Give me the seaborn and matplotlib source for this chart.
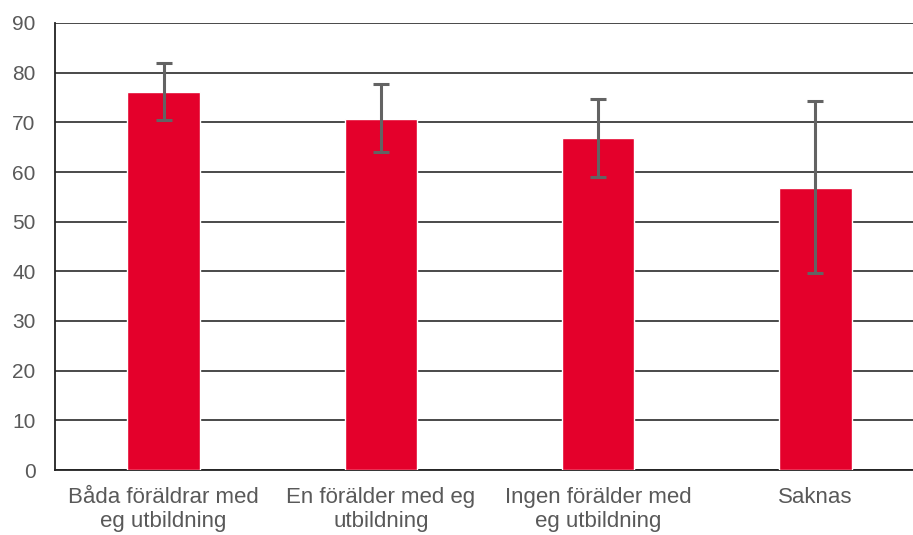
import numpy as np
import pandas as pd
import matplotlib
matplotlib.use('Agg')
import matplotlib.pyplot as plt
import seaborn as sns

# ==========================================
# Data
# ==========================================
categories = ['Båda föräldrar med\neg utbildning',
              'En förälder med eg\nutbildning',
              'Ingen förälder med\neg utbildning',
              'Saknas']
values = [76.2, 70.7, 66.9, 56.8]
err_low = [70.5, 64.1, 58.9, 39.6]
err_high = [81.9, 77.7, 74.7, 74.2]

df = pd.DataFrame({'Kategori': categories, 'Värde': values})

sns.set_theme(style='white')
plt.rcParams['font.family'] = ['Liberation Sans', 'DejaVu Sans']

fig = plt.figure(figsize=(9.13, 5.35), dpi=100)
ax = fig.add_axes([55 / 913, 65 / 535, 869 / 913, 447 / 535])

sns.barplot(data=df, x='Kategori', y='Värde', color='#E4002B',
            width=0.334, errorbar=None, ax=ax, saturation=1, zorder=3)

# error bars
x = np.arange(len(categories))
vals = np.array(values)
yerr = np.vstack([vals - np.array(err_low), np.array(err_high) - vals])
ax.errorbar(x, vals, yerr=yerr, fmt='none', ecolor='#636363',
            elinewidth=2.2, capsize=5.5, capthick=2.2, zorder=4)

ax.set_ylim(0, 90)
ax.set_xlim(-0.5, 3.5)
ax.set_yticks(range(0, 91, 10))
ax.yaxis.grid(True, color='#3a3a3a', linewidth=1.3, zorder=0)
ax.set_axisbelow(True)

for s in ['top', 'right']:
    ax.spines[s].set_visible(False)
for s in ['left', 'bottom']:
    ax.spines[s].set_color('#222222')
    ax.spines[s].set_linewidth(1.3)

ax.set_xlabel('')
ax.set_ylabel('')
ax.tick_params(axis='both', length=0, labelcolor='#595959')
ax.tick_params(axis='y', pad=14, labelsize=15)
ax.tick_params(axis='x', pad=12, labelsize=16)

fig.savefig('out.png', dpi=100)
